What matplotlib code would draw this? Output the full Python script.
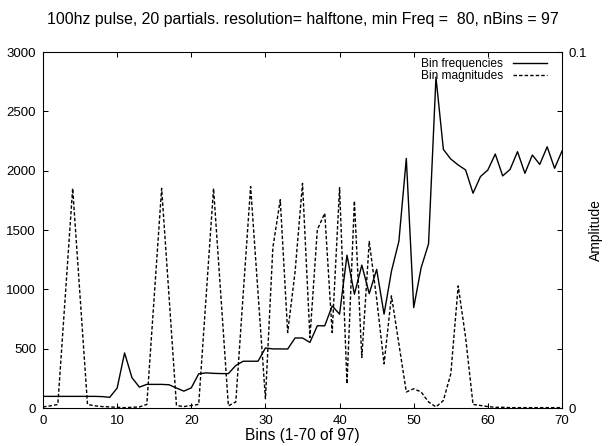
import matplotlib.pyplot as plt
import numpy as np

plt.rcParams['font.family'] = ['Liberation Sans', 'DejaVu Sans']
plt.rcParams['font.size'] = 9.5

# data (bins 0..70)
bins = np.arange(0, 71)

# bin frequencies (left axis)
bin_freqs = [98, 98, 98, 98, 98, 98, 98, 98, 96, 90,
             168, 464, 255, 176, 199, 199, 199, 196, 168, 142,
             170, 288, 296, 292, 290, 290, 358, 394, 394, 394,
             506, 498, 498, 497, 590, 590, 553, 693, 693, 860,
             791, 1288, 959, 1204, 964, 1168, 791, 1154, 1405, 2103,
             846, 1182, 1383, 2788, 2179, 2098, 2048, 2006, 1810, 1950,
             2006, 2140, 1956, 2011, 2160, 1978, 2132, 2053, 2201, 2020, 2165]

# bin magnitudes (right axis, amplitude)
bin_mags = [0.0003, 0.0006, 0.0010, 0.0313, 0.0617, 0.0313, 0.0010, 0.0006, 0.0004, 0.0003,
            0.0002, 0.0001, 0.0002, 0.0003, 0.0010, 0.0313, 0.0617, 0.0313, 0.0007, 0.0004,
            0.0007, 0.0010, 0.0313, 0.0617, 0.0312, 0.0006, 0.0017, 0.0320, 0.0622, 0.0323,
            0.0026, 0.0450, 0.0585, 0.0212, 0.0383, 0.0631, 0.0198, 0.0501, 0.0547, 0.0212,
            0.0619, 0.0068, 0.0582, 0.0142, 0.0468, 0.0307, 0.0124, 0.0315, 0.0180, 0.0045,
            0.0054, 0.0045, 0.0017, 0.0003, 0.0021, 0.0096, 0.0343, 0.0198, 0.0010, 0.0007,
            0.0004, 0.0002, 0.0002, 0.0001, 0.0001, 0.0001, 0.0001, 0.0001, 0.0001, 0.0001, 0.0001]

title = "100hz pulse, 20 partials. resolution= halftone, min Freq =  80, nBins = 97"

fig = plt.figure(figsize=(6.11, 4.46), dpi=100)
ax = fig.add_axes([0.0704, 0.0852, 0.8494, 0.7982])
ax2 = ax.twinx()

l1, = ax.plot(bins, bin_freqs, color='black', lw=1.0, label='Bin frequencies')
l2, = ax2.plot(bins, bin_mags, color='black', lw=1.0, linestyle=(0, (2.5, 1.5)),
               label='Bin magnitudes')

ax.set_xlim(0, 70)
ax.set_ylim(0, 3000)
ax2.set_ylim(0, 0.1)
ax.set_xticks(np.arange(0, 71, 10))
ax.set_yticks(np.arange(0, 3001, 500))
ax2.set_yticks([0, 0.1])
ax2.set_yticklabels(['0', '0.1'])

ax.tick_params(direction='in', length=3.3, width=0.75, top=True, right=True,
               labelright=False, pad=5)
ax2.tick_params(direction='in', length=3.3, width=0.75, pad=5)
for a in (ax, ax2):
    for s in a.spines.values():
        s.set_linewidth(0.75)

ax.set_xlabel('Bins (1-70 of 97)', fontsize=11.2, labelpad=1)
ax2.set_ylabel('Amplitude', fontsize=10, labelpad=1)
ax.set_title(title, pad=20)

ax2.legend(handles=[l1, l2], loc='upper right', frameon=False, markerfirst=False,
           fontsize=8.6, handlelength=2.85, labelspacing=0.0, borderaxespad=0,
           borderpad=0, handletextpad=0.84, bbox_to_anchor=(0.971, 0.982))

fig.savefig('out.png', dpi=100)
